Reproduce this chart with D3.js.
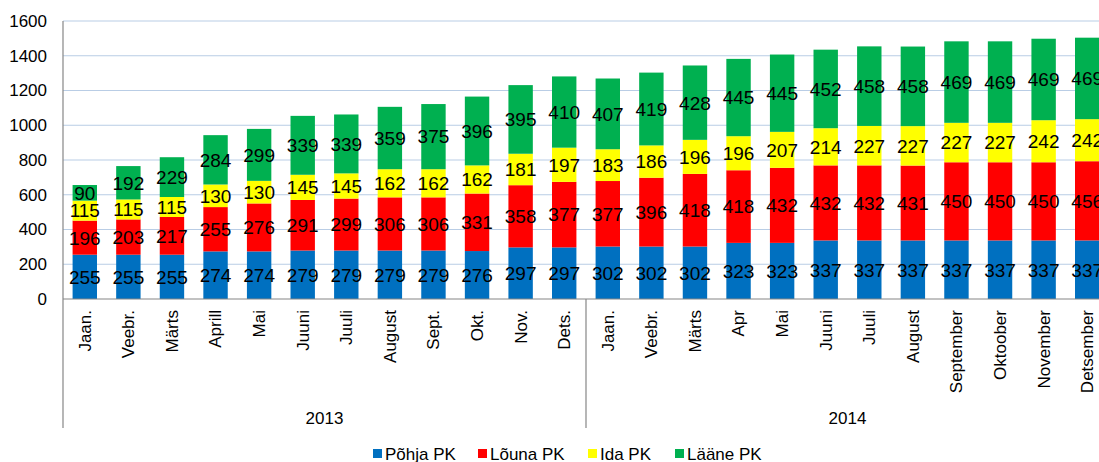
<!DOCTYPE html>
<html><head><meta charset="utf-8">
<script src="https://cdn.jsdelivr.net/npm/d3@7"></script>
<style>body{margin:0;background:#fff}svg{display:block;font-family:"Liberation Sans",Arial,sans-serif}</style>
</head><body><svg id="c" width="1099" height="462"></svg>
<script>
const months = ["Jaan.","Veebr.","Märts","Aprill","Mai","Juuni","Juuli","August","Sept.","Okt.","Nov.","Dets.",
  "Jaan.","Veebr.","Märts","Apr","Mai","Juuni","Juuli","August","September","Oktoober","November","Detsember"];
const years = ["2013","2014"];
const seriesNames = ["Põhja PK","Lõuna PK","Ida PK","Lääne PK"];
const pohja = [255,255,255,274,274,279,279,279,279,276,297,297,302,302,302,323,323,337,337,337,337,337,337,337];
const louna = [196,203,217,255,276,291,299,306,306,331,358,377,377,396,418,418,432,432,432,431,450,450,450,456];
const ida   = [115,115,115,130,130,145,145,162,162,162,181,197,183,186,196,196,207,214,227,227,227,227,242,242];
const laane = [90,192,229,284,299,339,339,359,375,396,395,410,407,419,428,445,445,452,458,458,469,469,469,469];
const yTicks = [0,200,400,600,800,1000,1200,1400,1600];
const colors = ["#0070C0","#FF0000","#FFFF00","#00B050"];

(function(){
const svg = d3.select("#c");
const L = 63, R = 1109, T = 21, B = 299;
const idx = months.map((m,i)=>i);
const x = d3.scaleBand().domain(idx).range([L,R]).paddingInner(0.44).paddingOuter(0.22);
const y = d3.scaleLinear().domain([0,1600]).range([B,T]);

svg.append("g").selectAll("line").data(yTicks.slice(1)).join("line")
  .attr("x1",L).attr("x2",R).attr("y1",d=>y(d)).attr("y2",d=>y(d))
  .attr("stroke","#B9CDE5").attr("stroke-width",1.2);

const ya = svg.append("g").attr("transform",`translate(${L},0)`)
  .call(d3.axisLeft(y).tickValues(yTicks).tickSize(0).tickPadding(16).tickFormat(d3.format("d")));
ya.select(".domain").remove();
ya.selectAll("text").attr("font-size",17).attr("fill","#000").attr("font-family","Liberation Sans, Arial, sans-serif");

const rows = idx.map(i=>({i, a:pohja[i], b:louna[i], c:ida[i], d:laane[i]}));
const stack = d3.stack().keys(["a","b","c","d"])(rows);
const g = svg.append("g");
stack.forEach((layer,k)=>{
  g.append("g").selectAll("rect").data(layer).join("rect")
    .attr("x",d=>x(d.data.i)).attr("width",x.bandwidth())
    .attr("y",d=>y(d[1])).attr("height",d=>y(d[0])-y(d[1]))
    .attr("fill",colors[k]);
});
stack.forEach((layer,k)=>{
  g.append("g").selectAll("text").data(layer).join("text")
    .attr("x",d=>x(d.data.i)+x.bandwidth()/2)
    .attr("y",d=>(y(d[0])+y(d[1]))/2)
    .attr("dy","0.36em").attr("text-anchor","middle")
    .attr("font-size",19).attr("fill","#000")
    .text(d=>d[1]-d[0]);
});

const axisColor = "#868686";
svg.append("line").attr("x1",L).attr("x2",R).attr("y1",B).attr("y2",B).attr("stroke",axisColor).attr("stroke-width",1.2);
svg.append("line").attr("x1",L).attr("x2",L).attr("y1",T).attr("y2",428).attr("stroke",axisColor).attr("stroke-width",1.2);
[12,24].forEach(n=>{
  const xx = L + (R-L)*n/24;
  svg.append("line").attr("x1",xx).attr("x2",xx).attr("y1",B).attr("y2",428).attr("stroke",axisColor).attr("stroke-width",1.2);
});

svg.append("g").selectAll("text").data(idx).join("text")
  .attr("transform",i=>`translate(${x(i)+x.bandwidth()/2},310) rotate(-90)`)
  .attr("text-anchor","end").attr("dy","0.35em")
  .attr("font-size",17).attr("fill","#000")
  .text(i=>months[i]);

svg.append("g").selectAll("text").data(years).join("text")
  .attr("x",(d,k)=>L+(R-L)*(k*12+6)/24)
  .attr("y",418).attr("dy","0.35em").attr("text-anchor","middle")
  .attr("font-size",17).attr("fill","#000").text(d=>d);

const legX = [373,478,588,675];
const leg = svg.append("g").selectAll("g").data(seriesNames).join("g")
  .attr("transform",(d,k)=>`translate(${legX[k]},454)`);
leg.append("rect").attr("x",0).attr("y",-5).attr("width",9).attr("height",9).attr("fill",(d,k)=>colors[k]);
leg.append("text").attr("x",12).attr("dy","0.35em").attr("font-size",17).attr("fill","#000").text(d=>d);
})();
</script></body></html>
